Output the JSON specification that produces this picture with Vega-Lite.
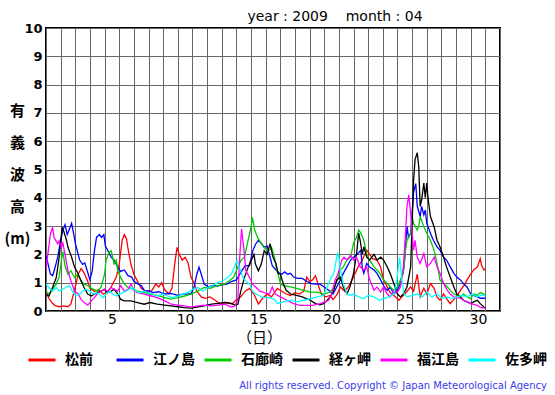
{
"$schema": "https://vega.github.io/schema/vega-lite/v6.json",
"width": 454, "height": 283,
"autosize": {"type": "none"},
"padding": {"left": 46, "top": 28, "right": 55, "bottom": 84},
"background": "white",
"title": {"text": "year : 2009\u00a0\u00a0\u00a0 month : 04", "font": "DejaVu Sans", "fontSize": 14, "fontWeight": "normal", "anchor": "middle", "dx": 62, "offset": -2, "color": "black"},
"datasets": {
"a": [
{"t":1.0,"h":0.65},{"t":1.2,"h":0.45},{"t":1.4,"h":0.3},{"t":1.6,"h":0.2},{"t":1.9,"h":0.15},{"t":2.2,"h":0.18},{"t":2.5,"h":0.15},{"t":2.7,"h":0.25},{"t":2.95,"h":0.75},{"t":3.2,"h":1.3},{"t":3.4,"h":1.5},{"t":3.6,"h":1.35},{"t":3.85,"h":1.05},{"t":4.0,"h":0.8},{"t":4.3,"h":0.7},{"t":4.6,"h":0.75},{"t":4.9,"h":0.6},{"t":5.2,"h":0.65},{"t":5.5,"h":0.9},{"t":5.8,"h":1.2},{"t":6.0,"h":1.65},{"t":6.2,"h":2.5},{"t":6.35,"h":2.7},{"t":6.5,"h":2.55},{"t":6.6,"h":2.2},{"t":6.8,"h":1.65},{"t":7.0,"h":1.3},{"t":7.25,"h":1.05},{"t":7.5,"h":0.8},{"t":7.8,"h":0.7},{"t":8.2,"h":0.7},{"t":8.5,"h":0.95},{"t":8.7,"h":0.85},{"t":8.9,"h":1.0},{"t":9.1,"h":0.75},{"t":9.4,"h":0.6},{"t":9.6,"h":0.8},{"t":9.8,"h":1.7},{"t":9.95,"h":2.25},{"t":10.1,"h":2.0},{"t":10.3,"h":1.8},{"t":10.5,"h":1.9},{"t":10.7,"h":1.7},{"t":10.9,"h":1.2},{"t":11.1,"h":1.0},{"t":11.3,"h":0.7},{"t":11.6,"h":0.5},{"t":11.9,"h":0.45},{"t":12.2,"h":0.5},{"t":12.5,"h":0.4},{"t":12.9,"h":0.25},{"t":13.3,"h":0.3},{"t":13.7,"h":0.25},{"t":14.0,"h":0.4},{"t":14.3,"h":0.5},{"t":14.6,"h":0.7},{"t":14.9,"h":0.8},{"t":15.2,"h":0.6},{"t":15.5,"h":0.25},{"t":15.8,"h":0.45},{"t":16.1,"h":0.6},{"t":16.4,"h":0.5},{"t":16.8,"h":0.8},{"t":17.1,"h":0.7},{"t":17.4,"h":0.6},{"t":17.7,"h":0.55},{"t":18.0,"h":0.65},{"t":18.3,"h":0.6},{"t":18.6,"h":0.7},{"t":18.8,"h":1.2},{"t":19.0,"h":1.05},{"t":19.2,"h":1.1},{"t":19.4,"h":1.25},{"t":19.6,"h":0.9},{"t":19.8,"h":0.6},{"t":20.1,"h":0.5},{"t":20.4,"h":0.55},{"t":20.6,"h":0.4},{"t":20.9,"h":0.6},{"t":21.1,"h":0.85},{"t":21.4,"h":0.7},{"t":21.7,"h":0.9},{"t":22.0,"h":1.2},{"t":22.3,"h":1.55},{"t":22.6,"h":1.8},{"t":22.9,"h":2.15},{"t":23.1,"h":2.0},{"t":23.3,"h":1.85},{"t":23.6,"h":1.8},{"t":23.85,"h":1.55},{"t":24.05,"h":1.1},{"t":24.3,"h":0.85},{"t":24.5,"h":0.65},{"t":24.85,"h":0.5},{"t":25.1,"h":0.38},{"t":25.3,"h":0.5},{"t":25.5,"h":0.6},{"t":25.9,"h":0.85},{"t":26.1,"h":0.7},{"t":26.35,"h":1.3},{"t":26.55,"h":0.5},{"t":26.8,"h":0.8},{"t":27.0,"h":0.6},{"t":27.25,"h":0.97},{"t":27.5,"h":0.8},{"t":27.7,"h":0.5},{"t":27.9,"h":0.38},{"t":28.15,"h":0.6},{"t":28.4,"h":0.4},{"t":28.6,"h":0.26},{"t":29.0,"h":0.5},{"t":29.3,"h":0.73},{"t":29.6,"h":0.95},{"t":29.75,"h":1.1},{"t":30.0,"h":1.3},{"t":30.2,"h":1.45},{"t":30.45,"h":1.55},{"t":30.65,"h":1.85},{"t":30.75,"h":1.6},{"t":30.9,"h":1.45},{"t":31.0,"h":1.5}
],
"b": [
{"t":1.0,"h":1.95},{"t":1.15,"h":1.65},{"t":1.3,"h":1.3},{"t":1.45,"h":1.25},{"t":1.6,"h":1.5},{"t":1.8,"h":1.9},{"t":2.0,"h":2.5},{"t":2.15,"h":2.85},{"t":2.3,"h":3.05},{"t":2.45,"h":2.7},{"t":2.6,"h":2.9},{"t":2.75,"h":3.1},{"t":2.9,"h":2.7},{"t":3.0,"h":2.4},{"t":3.15,"h":2.1},{"t":3.3,"h":1.8},{"t":3.5,"h":1.65},{"t":3.65,"h":1.7},{"t":3.8,"h":1.45},{"t":4.0,"h":1.1},{"t":4.15,"h":1.4},{"t":4.3,"h":2.1},{"t":4.45,"h":2.6},{"t":4.65,"h":2.7},{"t":4.8,"h":2.6},{"t":4.95,"h":2.7},{"t":5.05,"h":2.3},{"t":5.25,"h":2.1},{"t":5.45,"h":1.9},{"t":5.65,"h":1.8},{"t":5.9,"h":1.55},{"t":6.1,"h":1.4},{"t":6.35,"h":1.45},{"t":6.6,"h":1.25},{"t":6.85,"h":1.2},{"t":7.0,"h":1.05},{"t":7.3,"h":0.95},{"t":7.5,"h":0.9},{"t":7.75,"h":0.7},{"t":8.0,"h":0.72},{"t":8.3,"h":0.65},{"t":8.7,"h":0.68},{"t":9.1,"h":0.6},{"t":9.5,"h":0.62},{"t":10.0,"h":0.55},{"t":10.4,"h":0.6},{"t":10.9,"h":0.6},{"t":11.1,"h":0.83},{"t":11.3,"h":1.3},{"t":11.45,"h":1.55},{"t":11.6,"h":1.3},{"t":11.8,"h":0.95},{"t":12.1,"h":0.85},{"t":12.4,"h":0.9},{"t":12.7,"h":0.88},{"t":13.0,"h":0.92},{"t":13.35,"h":0.95},{"t":13.7,"h":1.05},{"t":14.0,"h":1.1},{"t":14.35,"h":1.4},{"t":14.6,"h":1.6},{"t":14.9,"h":1.6},{"t":15.1,"h":2.1},{"t":15.3,"h":2.35},{"t":15.5,"h":2.5},{"t":15.7,"h":2.4},{"t":15.9,"h":2.25},{"t":16.1,"h":2.3},{"t":16.3,"h":1.9},{"t":16.45,"h":1.6},{"t":16.7,"h":1.45},{"t":16.9,"h":1.35},{"t":17.1,"h":1.3},{"t":17.3,"h":1.38},{"t":17.5,"h":1.3},{"t":17.7,"h":1.33},{"t":17.9,"h":1.2},{"t":18.2,"h":1.15},{"t":18.5,"h":1.15},{"t":18.8,"h":1.05},{"t":19.1,"h":0.97},{"t":19.4,"h":0.95},{"t":19.7,"h":0.95},{"t":20.0,"h":0.85},{"t":20.3,"h":0.73},{"t":20.6,"h":0.6},{"t":20.85,"h":0.85},{"t":21.1,"h":1.1},{"t":21.3,"h":1.33},{"t":21.55,"h":1.56},{"t":21.8,"h":1.8},{"t":22.0,"h":1.9},{"t":22.25,"h":2.0},{"t":22.5,"h":2.15},{"t":22.6,"h":1.5},{"t":22.7,"h":1.33},{"t":22.9,"h":1.68},{"t":23.1,"h":1.55},{"t":23.4,"h":1.45},{"t":23.6,"h":1.33},{"t":23.85,"h":1.1},{"t":24.1,"h":0.85},{"t":24.3,"h":0.73},{"t":24.5,"h":0.85},{"t":24.75,"h":0.6},{"t":25.0,"h":0.73},{"t":25.2,"h":0.97},{"t":25.45,"h":1.56},{"t":25.55,"h":2.27},{"t":25.65,"h":3.0},{"t":25.75,"h":2.6},{"t":25.9,"h":2.75},{"t":26.1,"h":4.2},{"t":26.25,"h":4.5},{"t":26.35,"h":3.7},{"t":26.55,"h":3.34},{"t":26.65,"h":3.7},{"t":26.8,"h":3.4},{"t":26.9,"h":3.57},{"t":27.0,"h":3.1},{"t":27.25,"h":2.75},{"t":27.45,"h":2.5},{"t":27.7,"h":2.27},{"t":27.9,"h":2.15},{"t":28.15,"h":1.9},{"t":28.35,"h":1.8},{"t":28.6,"h":1.56},{"t":28.85,"h":1.33},{"t":29.05,"h":1.2},{"t":29.3,"h":1.1},{"t":29.5,"h":0.97},{"t":29.75,"h":0.85},{"t":30.0,"h":0.6},{"t":30.2,"h":0.55},{"t":30.45,"h":0.5},{"t":30.7,"h":0.45},{"t":31.0,"h":0.45}
],
"c": [
{"t":1.0,"h":0.7},{"t":1.2,"h":0.6},{"t":1.45,"h":0.77},{"t":1.7,"h":0.95},{"t":1.9,"h":1.2},{"t":2.05,"h":1.8},{"t":2.15,"h":2.1},{"t":2.3,"h":1.6},{"t":2.5,"h":1.3},{"t":2.7,"h":1.42},{"t":2.95,"h":1.18},{"t":3.15,"h":1.3},{"t":3.4,"h":1.06},{"t":3.6,"h":0.95},{"t":3.85,"h":0.9},{"t":4.1,"h":0.8},{"t":4.5,"h":0.7},{"t":4.75,"h":0.83},{"t":5.0,"h":1.3},{"t":5.1,"h":1.78},{"t":5.3,"h":2.07},{"t":5.45,"h":2.13},{"t":5.65,"h":1.66},{"t":5.8,"h":1.8},{"t":5.9,"h":1.42},{"t":6.1,"h":1.18},{"t":6.35,"h":0.95},{"t":6.6,"h":0.83},{"t":6.8,"h":0.8},{"t":7.25,"h":0.7},{"t":7.7,"h":0.65},{"t":8.1,"h":0.6},{"t":8.6,"h":0.55},{"t":9.1,"h":0.47},{"t":9.5,"h":0.42},{"t":10.0,"h":0.47},{"t":10.45,"h":0.53},{"t":10.9,"h":0.6},{"t":11.35,"h":0.7},{"t":11.8,"h":0.83},{"t":12.2,"h":0.8},{"t":12.7,"h":0.9},{"t":13.2,"h":0.95},{"t":13.5,"h":1.06},{"t":13.8,"h":1.18},{"t":14.1,"h":1.55},{"t":14.3,"h":1.78},{"t":14.55,"h":1.9},{"t":14.8,"h":2.5},{"t":15.0,"h":2.96},{"t":15.1,"h":3.3},{"t":15.25,"h":2.85},{"t":15.45,"h":2.6},{"t":15.7,"h":2.37},{"t":15.9,"h":2.25},{"t":16.15,"h":2.1},{"t":16.4,"h":2.25},{"t":16.6,"h":1.9},{"t":16.75,"h":1.45},{"t":16.9,"h":1.2},{"t":17.0,"h":0.97},{"t":17.2,"h":0.9},{"t":17.7,"h":0.85},{"t":18.1,"h":0.8},{"t":18.6,"h":0.73},{"t":19.0,"h":0.67},{"t":19.5,"h":0.67},{"t":20.0,"h":0.6},{"t":20.4,"h":0.67},{"t":20.7,"h":0.85},{"t":20.9,"h":1.1},{"t":21.1,"h":1.45},{"t":21.3,"h":1.56},{"t":21.55,"h":1.8},{"t":21.8,"h":1.9},{"t":22.0,"h":2.4},{"t":22.2,"h":2.6},{"t":22.35,"h":2.86},{"t":22.5,"h":2.75},{"t":22.7,"h":2.5},{"t":22.9,"h":2.0},{"t":23.1,"h":1.8},{"t":23.4,"h":1.56},{"t":23.6,"h":1.45},{"t":23.8,"h":1.33},{"t":24.05,"h":1.1},{"t":24.3,"h":0.97},{"t":24.5,"h":0.85},{"t":24.75,"h":0.73},{"t":25.0,"h":0.85},{"t":25.2,"h":1.1},{"t":25.4,"h":1.33},{"t":25.55,"h":2.15},{"t":25.65,"h":2.5},{"t":25.9,"h":2.75},{"t":26.0,"h":3.34},{"t":26.1,"h":3.1},{"t":26.35,"h":2.86},{"t":26.45,"h":2.98},{"t":26.55,"h":3.34},{"t":26.8,"h":2.98},{"t":27.0,"h":2.75},{"t":27.25,"h":2.5},{"t":27.5,"h":2.15},{"t":27.7,"h":1.68},{"t":27.9,"h":1.1},{"t":28.15,"h":0.97},{"t":28.4,"h":0.85},{"t":28.6,"h":0.73},{"t":28.85,"h":0.6},{"t":29.05,"h":0.56},{"t":29.3,"h":0.5},{"t":29.5,"h":0.6},{"t":29.75,"h":0.5},{"t":30.0,"h":0.44},{"t":30.2,"h":0.6},{"t":30.45,"h":0.56},{"t":30.65,"h":0.65},{"t":30.9,"h":0.6},{"t":31.0,"h":0.55}
],
"d": [
{"t":1.0,"h":0.6},{"t":1.2,"h":0.53},{"t":1.45,"h":0.83},{"t":1.7,"h":1.18},{"t":1.9,"h":1.9},{"t":2.1,"h":2.96},{"t":2.2,"h":2.84},{"t":2.4,"h":2.5},{"t":2.5,"h":2.25},{"t":2.75,"h":1.9},{"t":2.95,"h":1.55},{"t":3.15,"h":1.36},{"t":3.4,"h":1.06},{"t":3.6,"h":0.83},{"t":3.85,"h":0.6},{"t":4.1,"h":0.53},{"t":4.3,"h":0.6},{"t":4.5,"h":0.65},{"t":4.75,"h":0.7},{"t":5.0,"h":0.77},{"t":5.2,"h":0.65},{"t":5.45,"h":0.7},{"t":5.65,"h":0.77},{"t":5.9,"h":0.6},{"t":6.1,"h":0.41},{"t":6.35,"h":0.36},{"t":6.8,"h":0.36},{"t":7.25,"h":0.3},{"t":7.7,"h":0.24},{"t":8.1,"h":0.3},{"t":8.6,"h":0.24},{"t":9.1,"h":0.21},{"t":9.55,"h":0.18},{"t":10.0,"h":0.15},{"t":10.45,"h":0.12},{"t":10.9,"h":0.1},{"t":11.4,"h":0.15},{"t":11.8,"h":0.18},{"t":12.3,"h":0.24},{"t":12.75,"h":0.27},{"t":13.2,"h":0.3},{"t":13.65,"h":0.27},{"t":13.9,"h":0.21},{"t":14.1,"h":0.24},{"t":14.3,"h":0.7},{"t":14.55,"h":1.18},{"t":14.8,"h":1.55},{"t":15.0,"h":1.78},{"t":15.2,"h":2.0},{"t":15.3,"h":1.66},{"t":15.5,"h":1.42},{"t":15.7,"h":1.66},{"t":15.9,"h":2.13},{"t":16.1,"h":2.0},{"t":16.3,"h":2.38},{"t":16.5,"h":1.9},{"t":16.7,"h":1.68},{"t":16.85,"h":1.33},{"t":17.0,"h":1.3},{"t":17.2,"h":0.97},{"t":17.4,"h":0.73},{"t":17.7,"h":0.6},{"t":18.1,"h":0.55},{"t":18.5,"h":0.5},{"t":19.05,"h":0.38},{"t":19.4,"h":0.26},{"t":19.7,"h":0.22},{"t":19.95,"h":0.26},{"t":20.2,"h":0.38},{"t":20.4,"h":0.5},{"t":20.65,"h":0.73},{"t":20.85,"h":1.1},{"t":21.1,"h":1.2},{"t":21.3,"h":0.85},{"t":21.55,"h":0.6},{"t":21.75,"h":0.85},{"t":22.0,"h":1.33},{"t":22.2,"h":2.0},{"t":22.35,"h":2.75},{"t":22.45,"h":2.5},{"t":22.6,"h":2.0},{"t":22.7,"h":2.27},{"t":22.9,"h":1.9},{"t":23.1,"h":1.8},{"t":23.4,"h":2.0},{"t":23.6,"h":1.8},{"t":23.85,"h":1.9},{"t":24.05,"h":1.8},{"t":24.3,"h":1.56},{"t":24.5,"h":1.33},{"t":24.75,"h":0.97},{"t":25.0,"h":0.6},{"t":25.2,"h":0.5},{"t":25.4,"h":0.6},{"t":25.65,"h":0.85},{"t":25.9,"h":1.56},{"t":26.0,"h":3.1},{"t":26.1,"h":4.64},{"t":26.2,"h":5.35},{"t":26.35,"h":5.59},{"t":26.45,"h":5.1},{"t":26.55,"h":3.7},{"t":26.65,"h":3.93},{"t":26.8,"h":4.52},{"t":26.9,"h":4.0},{"t":27.0,"h":4.52},{"t":27.1,"h":3.93},{"t":27.25,"h":3.34},{"t":27.5,"h":2.98},{"t":27.7,"h":2.5},{"t":27.9,"h":2.27},{"t":28.15,"h":1.9},{"t":28.35,"h":1.56},{"t":28.6,"h":1.2},{"t":28.85,"h":0.85},{"t":29.05,"h":0.6},{"t":29.3,"h":0.5},{"t":29.5,"h":0.38},{"t":29.75,"h":0.32},{"t":30.0,"h":0.26},{"t":30.2,"h":0.32},{"t":30.45,"h":0.38},{"t":30.65,"h":0.26},{"t":30.9,"h":0.14},{"t":31.0,"h":0.12}
],
"e": [
{"t":1.0,"h":1.42},{"t":1.1,"h":1.9},{"t":1.3,"h":2.72},{"t":1.45,"h":2.96},{"t":1.55,"h":2.6},{"t":1.8,"h":2.37},{"t":1.9,"h":2.48},{"t":2.05,"h":2.25},{"t":2.15,"h":2.4},{"t":2.3,"h":2.0},{"t":2.5,"h":1.42},{"t":2.7,"h":1.06},{"t":2.95,"h":0.7},{"t":3.2,"h":0.6},{"t":3.4,"h":0.41},{"t":3.6,"h":0.3},{"t":3.85,"h":0.21},{"t":4.1,"h":0.36},{"t":4.3,"h":0.47},{"t":4.5,"h":0.6},{"t":4.75,"h":0.7},{"t":5.0,"h":0.77},{"t":5.2,"h":0.7},{"t":5.45,"h":0.83},{"t":5.65,"h":0.77},{"t":5.9,"h":0.7},{"t":6.1,"h":0.9},{"t":6.35,"h":0.7},{"t":6.6,"h":0.77},{"t":6.8,"h":0.95},{"t":7.05,"h":0.7},{"t":7.3,"h":0.65},{"t":7.7,"h":0.6},{"t":8.2,"h":0.53},{"t":8.6,"h":0.47},{"t":9.1,"h":0.36},{"t":9.55,"h":0.24},{"t":10.0,"h":0.21},{"t":10.45,"h":0.18},{"t":10.9,"h":0.14},{"t":11.4,"h":0.18},{"t":11.8,"h":0.21},{"t":12.3,"h":0.18},{"t":12.75,"h":0.21},{"t":13.2,"h":0.24},{"t":13.65,"h":0.14},{"t":13.9,"h":0.18},{"t":14.1,"h":0.41},{"t":14.2,"h":1.66},{"t":14.35,"h":2.9},{"t":14.5,"h":2.25},{"t":14.65,"h":1.42},{"t":14.9,"h":1.18},{"t":15.1,"h":0.95},{"t":15.35,"h":0.83},{"t":15.6,"h":0.7},{"t":15.9,"h":0.65},{"t":16.25,"h":0.6},{"t":16.45,"h":0.85},{"t":16.65,"h":0.6},{"t":17.0,"h":0.5},{"t":17.45,"h":0.38},{"t":17.9,"h":0.26},{"t":18.35,"h":0.2},{"t":18.8,"h":0.2},{"t":19.25,"h":0.2},{"t":19.7,"h":0.26},{"t":20.05,"h":0.32},{"t":20.3,"h":0.38},{"t":20.5,"h":0.6},{"t":20.75,"h":1.1},{"t":20.95,"h":1.33},{"t":21.2,"h":1.8},{"t":21.35,"h":1.9},{"t":21.55,"h":1.8},{"t":21.8,"h":1.97},{"t":22.0,"h":1.8},{"t":22.2,"h":1.9},{"t":22.45,"h":1.56},{"t":22.7,"h":1.45},{"t":22.9,"h":1.56},{"t":23.1,"h":1.1},{"t":23.4,"h":0.73},{"t":23.6,"h":0.85},{"t":23.85,"h":0.67},{"t":24.05,"h":0.85},{"t":24.3,"h":0.6},{"t":24.5,"h":0.5},{"t":24.75,"h":0.73},{"t":25.0,"h":0.67},{"t":25.2,"h":0.85},{"t":25.4,"h":1.56},{"t":25.55,"h":2.75},{"t":25.65,"h":3.7},{"t":25.77,"h":4.1},{"t":25.9,"h":3.46},{"t":26.0,"h":2.75},{"t":26.1,"h":2.15},{"t":26.2,"h":2.5},{"t":26.35,"h":1.9},{"t":26.55,"h":1.68},{"t":26.8,"h":2.03},{"t":27.0,"h":1.56},{"t":27.25,"h":1.68},{"t":27.5,"h":1.9},{"t":27.7,"h":1.56},{"t":27.9,"h":1.33},{"t":28.15,"h":0.97},{"t":28.4,"h":0.73},{"t":28.6,"h":0.6},{"t":28.85,"h":0.5},{"t":29.3,"h":0.45},{"t":29.5,"h":0.38},{"t":29.75,"h":0.32},{"t":30.0,"h":0.26},{"t":30.45,"h":0.2},{"t":30.65,"h":0.14},{"t":30.9,"h":0.1},{"t":31.0,"h":0.1}
],
"f": [
{"t":1.0,"h":0.95},{"t":1.2,"h":0.83},{"t":1.45,"h":0.7},{"t":1.7,"h":0.83},{"t":1.9,"h":0.7},{"t":2.15,"h":0.77},{"t":2.35,"h":0.83},{"t":2.6,"h":0.9},{"t":2.8,"h":0.7},{"t":3.05,"h":0.53},{"t":3.3,"h":0.6},{"t":3.5,"h":0.7},{"t":3.75,"h":0.77},{"t":4.0,"h":0.7},{"t":4.2,"h":0.6},{"t":4.45,"h":0.65},{"t":4.65,"h":0.6},{"t":4.9,"h":0.47},{"t":5.1,"h":0.6},{"t":5.35,"h":0.7},{"t":5.55,"h":0.6},{"t":5.8,"h":0.53},{"t":6.0,"h":0.6},{"t":6.25,"h":0.65},{"t":6.45,"h":0.7},{"t":6.7,"h":0.77},{"t":6.9,"h":0.83},{"t":7.15,"h":0.7},{"t":7.4,"h":0.65},{"t":7.7,"h":0.7},{"t":7.95,"h":0.65},{"t":8.3,"h":0.6},{"t":8.6,"h":0.53},{"t":8.95,"h":0.6},{"t":9.3,"h":0.53},{"t":9.65,"h":0.47},{"t":10.0,"h":0.53},{"t":10.35,"h":0.6},{"t":10.7,"h":0.65},{"t":11.0,"h":0.77},{"t":11.35,"h":0.83},{"t":11.7,"h":0.7},{"t":12.05,"h":0.83},{"t":12.4,"h":0.9},{"t":12.7,"h":1.0},{"t":13.05,"h":1.06},{"t":13.4,"h":1.18},{"t":13.65,"h":1.3},{"t":13.85,"h":1.55},{"t":14.05,"h":1.78},{"t":14.2,"h":1.55},{"t":14.45,"h":1.18},{"t":14.65,"h":1.06},{"t":14.9,"h":0.95},{"t":15.1,"h":0.7},{"t":15.35,"h":0.6},{"t":15.6,"h":0.53},{"t":15.9,"h":0.47},{"t":16.25,"h":0.47},{"t":16.6,"h":0.41},{"t":16.8,"h":0.26},{"t":17.2,"h":0.32},{"t":17.7,"h":0.38},{"t":18.1,"h":0.32},{"t":18.6,"h":0.38},{"t":19.05,"h":0.44},{"t":19.5,"h":0.5},{"t":19.95,"h":0.55},{"t":20.2,"h":0.85},{"t":20.4,"h":1.1},{"t":20.65,"h":1.33},{"t":20.9,"h":2.03},{"t":21.0,"h":1.9},{"t":21.1,"h":1.45},{"t":21.3,"h":0.97},{"t":21.55,"h":0.6},{"t":21.8,"h":0.55},{"t":22.0,"h":0.6},{"t":22.35,"h":0.5},{"t":22.7,"h":0.44},{"t":23.0,"h":0.55},{"t":23.4,"h":0.5},{"t":23.75,"h":0.38},{"t":24.05,"h":0.44},{"t":24.4,"h":0.5},{"t":24.75,"h":0.6},{"t":24.95,"h":1.1},{"t":25.15,"h":1.9},{"t":25.3,"h":1.1},{"t":25.45,"h":0.6},{"t":25.65,"h":0.5},{"t":26.0,"h":0.55},{"t":26.35,"h":0.6},{"t":26.7,"h":0.5},{"t":27.0,"h":0.67},{"t":27.35,"h":0.5},{"t":27.7,"h":0.6},{"t":28.05,"h":0.44},{"t":28.4,"h":0.5},{"t":28.7,"h":0.44},{"t":29.05,"h":0.5},{"t":29.4,"h":0.55},{"t":29.75,"h":0.5},{"t":30.1,"h":0.6},{"t":30.45,"h":0.5},{"t":30.7,"h":0.55},{"t":31.0,"h":0.55}
]
},
"layer": [
{"data": {"name": "a"}, "mark": {"type": "line", "strokeWidth": 1.3, "clip": true},
 "encoding": {"color": {"datum": "松前", "type": "nominal",
 "scale": {"domain": ["松前", "江ノ島", "石廊崎", "経ヶ岬", "福江島", "佐多岬"], "range": ["#ff0000", "#0000ff", "#00cc00", "#000000", "#ff00ff", "#00ffff"]},
 "legend": {"orient": "none", "legendX": -19, "legendY": 317, "direction": "horizontal", "columns": 6, "gridAlign": "all", "padding": 0,
  "symbolType": "stroke", "symbolSize": 729, "symbolStrokeWidth": 3,
  "labelFont": "Noto Sans CJK JP", "labelFontSize": 14, "labelFontWeight": "bold", "labelColor": "black", "labelOffset": 8, "columnPadding": 3,
  "title": "All rights reserved. Copyright © Japan Meteorological Agency", "titleLimit": 500, "titleOrient": "bottom", "titleAnchor": "end", "titleColor": "#3c3cf0", "titleFont": "DejaVu Sans", "titleFontSize": 10, "titleFontWeight": "normal", "titlePadding": 14}}}},
{"data": {"name": "b"}, "mark": {"type": "line", "strokeWidth": 1.3, "clip": true}, "encoding": {"color": {"datum": "江ノ島", "type": "nominal"}}},
{"data": {"name": "c"}, "mark": {"type": "line", "strokeWidth": 1.3, "clip": true}, "encoding": {"color": {"datum": "石廊崎", "type": "nominal"}}},
{"data": {"name": "d"}, "mark": {"type": "line", "strokeWidth": 1.3, "clip": true}, "encoding": {"color": {"datum": "経ヶ岬", "type": "nominal"}}},
{"data": {"name": "e"}, "mark": {"type": "line", "strokeWidth": 1.3, "clip": true}, "encoding": {"color": {"datum": "福江島", "type": "nominal"}}},
{"data": {"name": "f"}, "mark": {"type": "line", "strokeWidth": 1.3, "clip": true}, "encoding": {"color": {"datum": "佐多岬", "type": "nominal"}}}
],
"encoding": {
"x": {"field": "t", "type": "quantitative", "scale": {"domain": [1, 32], "nice": false, "zero": false},
 "axis": {"values": [1,2,3,4,5,6,7,8,9,10,11,12,13,14,15,16,17,18,19,20,21,22,23,24,25,26,27,28,29,30,31,32], "grid": true, "gridColor": "#666666", "gridOpacity": 1, "gridWidth": 1, "ticks": false, "domain": false,
  "labelExpr": "(datum.value % 5 == 0 && datum.value <= 30) ? datum.label : ''", "labelOffset": 7.3, "labelFont": "DejaVu Sans", "labelFontSize": 14, "labelColor": "black", "labelPadding": 1, "labelOverlap": false, "labelFlush": false, "labelBaseline": "top",
  "title": "（日）", "titleFont": "Noto Sans CJK JP", "titleFontSize": 15, "titleFontWeight": "normal", "titleColor": "black", "titleX": 213, "titleY": 26, "titleAlign": "center", "titleBaseline": "middle", "titleAngle": 0}},
"y": {"field": "h", "type": "quantitative", "scale": {"domain": [0, 10], "nice": false, "zero": true},
 "axis": {"values": [0,1,2,3,4,5,6,7,8,9,10], "grid": true, "gridColor": "#666666", "gridOpacity": 1, "gridWidth": 1, "ticks": false, "domain": false,
  "labelFont": "DejaVu Sans", "labelFontWeight": "bold", "labelFontSize": 13, "labelColor": "black", "labelPadding": 4, "labelOverlap": false, "labelFlush": false,
  "title": ["有", "義", "波", "高", "(m)"], "titleFont": "Noto Sans CJK JP", "titleFontSize": 15, "titleFontWeight": "bold", "titleColor": "black", "titleAngle": 0, "titleAlign": "center", "titleBaseline": "middle", "titleX": -29, "titleY": 82, "titleLineHeight": 32}}
},
"config": {"view": {"stroke": "black", "strokeWidth": 2}}
}
